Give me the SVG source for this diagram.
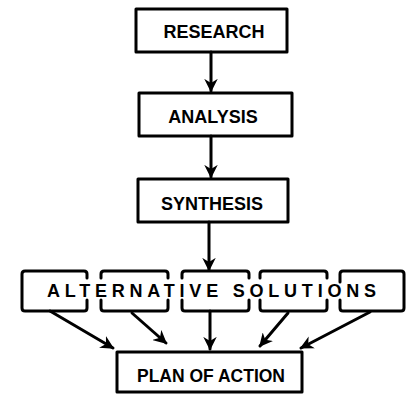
<svg xmlns="http://www.w3.org/2000/svg" width="407" height="394" viewBox="0 0 407 394">
  <style>
    .box { fill: none; stroke: #000; stroke-width: 3; stroke-linejoin: round; stroke-linecap: round; }
    .edge { fill: none; stroke: #000; stroke-width: 3; stroke-linecap: round; }
    .lbl { font-family: "Liberation Sans", Arial, sans-serif; font-weight: bold; font-size: 18px; fill: #000; text-anchor: middle; }
    .alt { font-family: "Liberation Sans", Arial, sans-serif; font-weight: bold; font-size: 18px; fill: #000; }
  </style>
  <defs>
    <marker id="arrow" viewBox="0 0 10 10" refX="9" refY="5" markerWidth="4.5" markerHeight="4.5" orient="auto" markerUnits="strokeWidth">
      <path d="M0,0 L10,5 L0,10 L3,5 Z" fill="#000"/>
    </marker>
  </defs>
  <rect width="407" height="394" fill="#fff"/>

  <g id="research">
    <rect class="box" x="136" y="9" width="151" height="43"/>
    <text class="lbl" x="214" y="38">RESEARCH</text>
  </g>
  <g id="analysis">
    <rect class="box" x="139" y="93" width="153" height="43"/>
    <text class="lbl" x="213" y="123">ANALYSIS</text>
  </g>
  <g id="synthesis">
    <rect class="box" x="138" y="179" width="150" height="43"/>
    <text class="lbl" x="212" y="210">SYNTHESIS</text>
  </g>

  <!-- five open-sided cells sharing one spaced label -->
  <g id="alternatives">
    <path class="box" d="M87,278 V274 Q87,271 84,271 H25 Q22,271 22,274 V308 Q22,311 25,311 H84 Q87,311 87,308 V300"/>
    <path class="box" d="M101,278 V274 Q101,271 104,271 H165 Q168,271 168,274 V278 M168,300 V308 Q168,311 165,311 H104 Q101,311 101,308 V300"/>
    <path class="box" d="M182,278 V274 Q182,271 185,271 H246 Q249,271 249,274 V278 M249,300 V308 Q249,311 246,311 H185 Q182,311 182,308 V300"/>
    <path class="box" d="M260,278 V274 Q260,271 263,271 H324 Q327,271 327,274 V278 M327,300 V308 Q327,311 324,311 H263 Q260,311 260,308 V300"/>
    <path class="box" d="M340,282 V274 Q340,271 343,271 H401 Q404,271 404,274 V308 Q404,311 401,311 H343 Q340,311 340,308 V300"/>
    <text class="alt" x="47" y="297" textLength="329" lengthAdjust="spacing">ALTERNATIVE SOLUTIONS</text>
  </g>

  <g id="plan">
    <rect class="box" x="117" y="352" width="185" height="40"/>
    <text class="lbl" x="211" y="382" textLength="148" lengthAdjust="spacingAndGlyphs">PLAN OF ACTION</text>
  </g>

  <g id="connectors">
    <line class="edge" x1="211" y1="52" x2="211" y2="91" marker-end="url(#arrow)"/>
    <line class="edge" x1="211" y1="136" x2="211" y2="177" marker-end="url(#arrow)"/>
    <line class="edge" x1="209" y1="222" x2="209" y2="270" marker-end="url(#arrow)"/>
    <line class="edge" x1="50" y1="311" x2="113" y2="348" marker-end="url(#arrow)"/>
    <line class="edge" x1="132" y1="313" x2="166" y2="343" marker-end="url(#arrow)"/>
    <line class="edge" x1="210" y1="311" x2="210" y2="349" marker-end="url(#arrow)"/>
    <line class="edge" x1="288" y1="313" x2="260" y2="346" marker-end="url(#arrow)"/>
    <line class="edge" x1="370" y1="312" x2="301" y2="348" marker-end="url(#arrow)"/>
  </g>
</svg>
